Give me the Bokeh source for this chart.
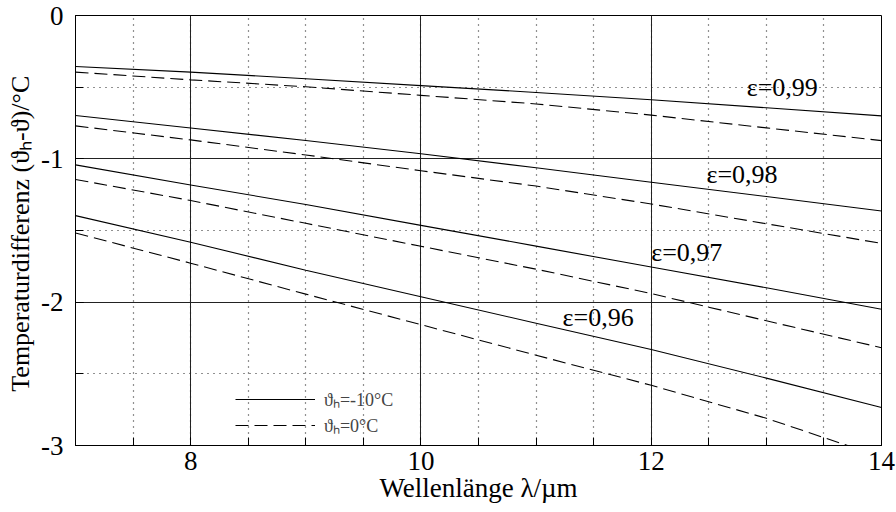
from bokeh.plotting import figure
from bokeh.models import Range1d, SingleIntervalTicker, Label, Legend, LegendItem, PrintfTickFormatter
from bokeh.embed import file_html
from bokeh.resources import INLINE

# Wellenlänge in µm
wavelength = [7, 8, 9, 10, 11, 12, 13, 14]

# Temperaturdifferenz (ϑh-ϑ) in °C, solid: ϑh=-10°C, dashed: ϑh=0°C
eps099_m10 = [-0.356, -0.395, -0.441, -0.489, -0.537, -0.588, -0.644, -0.700]
eps099_0 = [-0.395, -0.449, -0.497, -0.557, -0.617, -0.695, -0.784, -0.873]
eps098_m10 = [-0.698, -0.785, -0.872, -0.965, -1.062, -1.163, -1.263, -1.364]
eps098_0 = [-0.770, -0.868, -0.973, -1.083, -1.190, -1.315, -1.453, -1.590]
eps097_m10 = [-1.042, -1.182, -1.319, -1.464, -1.609, -1.755, -1.900, -2.050]
eps097_0 = [-1.144, -1.291, -1.450, -1.610, -1.770, -1.940, -2.130, -2.318]
eps096_m10 = [-1.396, -1.582, -1.777, -1.962, -2.147, -2.330, -2.530, -2.735]
eps096_0 = [-1.517, -1.728, -1.944, -2.157, -2.370, -2.580, -2.810, -3.080]

curve_labels = ["ε=0,99", "ε=0,98", "ε=0,97", "ε=0,96"]
legend_labels = ["ϑₕ=-10°C", "ϑₕ=0°C"]

FONT = "'Liberation Serif', 'Times New Roman', serif"

p = figure(width=896, height=512, x_range=Range1d(7, 14), y_range=Range1d(-3, 0),
           output_backend="svg", toolbar_location=None,
           min_border_left=75, min_border_right=15, min_border_top=15, min_border_bottom=67)
p.background_fill_color = "white"
p.border_fill_color = "white"
p.outline_line_color = "black"
p.outline_line_width = 1

p.xaxis.ticker = SingleIntervalTicker(interval=2, num_minor_ticks=4)
p.yaxis.ticker = SingleIntervalTicker(interval=1, num_minor_ticks=2)
p.xaxis.formatter = PrintfTickFormatter(format="%d")
p.yaxis.formatter = PrintfTickFormatter(format="%d")

for ax in (p.xaxis, p.yaxis):
    ax.axis_line_color = "black"
    ax.major_tick_in = 8
    ax.major_tick_out = 0
    ax.minor_tick_in = 8
    ax.minor_tick_out = 0
    ax.major_tick_line_color = "black"
    ax.minor_tick_line_color = "black"
    ax.major_label_text_font = FONT
    ax.major_label_text_font_size = "27px"
    ax.major_label_text_color = "black"
    ax.axis_label_text_font = FONT
    ax.axis_label_text_font_size = "27px"
    ax.axis_label_text_font_style = "normal"
    ax.axis_label_text_color = "black"

p.xaxis.axis_label = "Wellenlänge λ/µm"
p.xaxis.major_label_standoff = 6
p.xaxis.axis_label_standoff = 0
p.yaxis.axis_label = "Temperaturdifferenz  (ϑₕ-ϑ)/°C"
p.yaxis.axis_label_text_font_size = "26px"
p.yaxis.major_label_standoff = 12
p.yaxis.axis_label_standoff = 3

for g in (p.xgrid, p.ygrid):
    g.grid_line_color = "#222222"
    g.grid_line_width = 1
    g.grid_line_alpha = 1
    g.minor_grid_line_color = "#222222"
    g.minor_grid_line_dash = "1 5"
    g.minor_grid_line_width = 1.2

series = [
    (eps099_m10, "solid"), (eps099_0, "13 6"),
    (eps098_m10, "solid"), (eps098_0, "13 6"),
    (eps097_m10, "solid"), (eps097_0, "13 6"),
    (eps096_m10, "solid"), (eps096_0, "13 6"),
]
renderers = []
for ys, dash in series:
    r = p.line(wavelength, ys, line_color="black", line_width=1.1, line_dash=dash)
    renderers.append(r)

label_pos = [(12.83, -0.505), (12.48, -1.112), (12.0, -1.65), (11.23, -2.11)]
for txt, (lx, ly) in zip(curve_labels, label_pos):
    p.add_layout(Label(x=lx, y=ly, text=txt, text_font=FONT, text_font_size="26px",
                       text_color="black", text_baseline="middle", text_align="left"))

legend = Legend(items=[LegendItem(label=legend_labels[0], renderers=[renderers[0]]),
                       LegendItem(label=legend_labels[1], renderers=[renderers[1]])],
                location=(160, 8), glyph_width=80, glyph_height=20, label_height=20,
                label_standoff=9, spacing=2, padding=0, margin=0,
                background_fill_alpha=0, border_line_alpha=0,
                label_text_font=FONT, label_text_font_size="18px")
p.add_layout(legend)

open("out.html", "w").write(file_html(p, INLINE))
